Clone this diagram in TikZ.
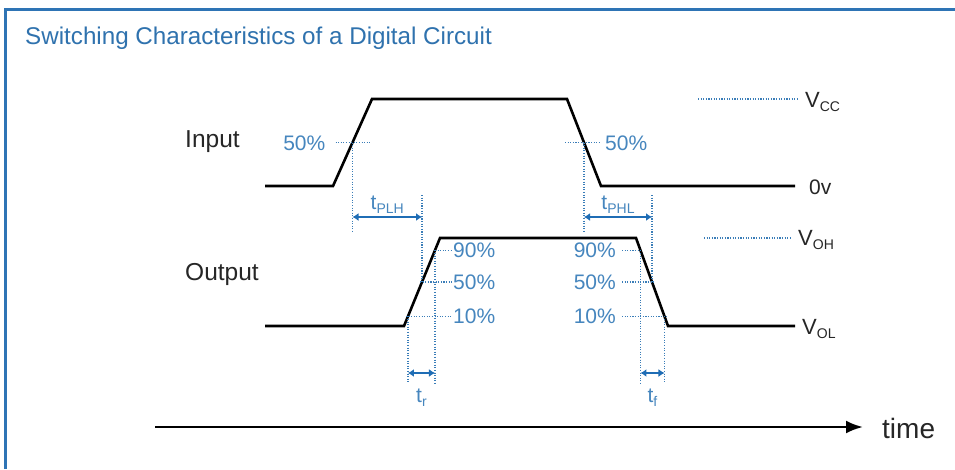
\documentclass[tikz,border=0pt]{standalone}
\usepackage{fontspec}
\setmainfont{Liberation Sans}
\usetikzlibrary{arrows.meta,calc}
\definecolor{frameblue}{HTML}{2E74B5}
\definecolor{titleblue}{HTML}{2F72AE}
\definecolor{lblblue}{HTML}{4686BE}
\definecolor{dotblue}{HTML}{3A7DB8}
\definecolor{arrblue}{HTML}{1F6DB5}
\newcommand{\subtxt}[1]{\raisebox{-0.22em}{\fontsize{14}{14}\selectfont #1}}
\begin{document}
\begin{tikzpicture}[x=1pt,y=-1pt,
  wave/.style={line width=2.6pt, black, line join=miter},
  guide/.style={dotblue, line width=1.4pt, dash pattern=on 1.1pt off 1.5pt},
  dimarrow/.style={arrblue, line width=1.6pt, {Latex[length=6pt,width=8pt]}-{Latex[length=6pt,width=8pt]}},
  pct/.style={font=\fontsize{21}{21}\selectfont, text=lblblue, inner sep=0pt},
  tlbl/.style={font=\fontsize{21}{21}\selectfont, text=lblblue, inner sep=0pt},
  blk/.style={font=\fontsize{24.5}{24.5}\selectfont, text=black!85, inner sep=0pt},
]
\useasboundingbox (0,0) rectangle (955,469);
\fill[white] (0,0) rectangle (955,469);
\draw[frameblue, line width=3pt] (5,469) -- (5,9) -- (955,9);

\node[anchor=base west, font=\fontsize{24.2}{24.2}\selectfont, text=titleblue, inner sep=0pt] (title) at (25,44) {Switching Characteristics of a Digital Circuit};

% signal labels
\node[blk, anchor=base west] (input) at (185,147) {Input};
\node[blk, anchor=base west] (output) at (185,280) {Output};

% input waveform
\coordinate (i0) at (265,186);
\coordinate (i1) at (333,186);
\coordinate (i2) at (372,99);
\coordinate (i3) at (567,99);
\coordinate (i4) at (601,186);
\coordinate (i5) at (795,186);
\draw[wave] (i0) -- (i1) -- (i2) -- (i3) -- (i4) -- (i5);

% output waveform
\coordinate (o0) at (265,326);
\coordinate (o1) at (404,326);
\coordinate (o2) at (440,238);
\coordinate (o3) at (636,238);
\coordinate (o4) at (668,326);
\coordinate (o5) at (795,326);
\draw[wave] (o0) -- (o1) -- (o2) -- (o3) -- (o4) -- (o5);

% crossing points
\coordinate (ir50) at ($(i1)!0.5!(i2)$);
\coordinate (if50) at ($(i3)!0.5!(i4)$);
\coordinate (or10) at ($(o1)!0.11!(o2)$);
\coordinate (or50) at ($(o1)!0.5!(o2)$);
\coordinate (or90) at ($(o1)!0.86!(o2)$);
\coordinate (of90) at ($(o3)!0.14!(o4)$);
\coordinate (of50) at ($(o3)!0.5!(o4)$);
\coordinate (of10) at ($(o3)!0.89!(o4)$);
\coordinate (plhm) at ($(ir50)!0.5!(or50)$);
\coordinate (phlm) at ($(if50)!0.5!(of50)$);
\coordinate (trm) at ($(or10)!0.5!(or90)$);
\coordinate (tfm) at ($(of90)!0.5!(of10)$);

% level lines
\draw[guide] (698,99) -- (797,99);
\node[anchor=base west, font=\fontsize{22}{22}\selectfont, text=black!85, inner sep=0pt] (vcc) at (805,107) {V\subtxt{CC}};
\node[anchor=base west, font=\fontsize{21}{21}\selectfont, text=black!85, inner sep=0pt] (zero) at (809,194) {0v};
\draw[guide] (704,238) -- (792,238);
\node[anchor=base west, font=\fontsize{22}{22}\selectfont, text=black!85, inner sep=0pt] (voh) at (798,245) {V\subtxt{OH}};
\node[anchor=base west, font=\fontsize{22}{22}\selectfont, text=black!85, inner sep=0pt] (vol) at (802,334) {V\subtxt{OL}};

% input 50% marks
\draw[guide] ($(ir50)+(-17,0)$) -- ($(ir50)+(17,0)$);
\node[pct, anchor=base east] (p1) at ($(ir50)+(-27,7.5)$) {50\%};
\draw[guide] ($(if50)+(-19,0)$) -- ($(if50)+(16,0)$);
\node[pct, anchor=base west] (p2) at ($(if50)+(21,7.5)$) {50\%};

% tPLH
\coordinate (plhA) at (ir50 |- 0,232);
\coordinate (plhB) at (or50 |- 0,195);
\draw[guide] (ir50) -- (plhA);
\draw[guide] (plhB) -- (or50);
\draw[dimarrow] (ir50 |- 0,217) -- (or50 |- 0,217);
\node[tlbl, anchor=base] (tplh) at (plhm |- 0,209) {t\subtxt{PLH}};

% tPHL
\coordinate (phlA) at (if50 |- 0,232);
\coordinate (phlB) at (of50 |- 0,195);
\draw[guide] (if50) -- (phlA);
\draw[guide] (phlB) -- (of50);
\draw[dimarrow] (if50 |- 0,217) -- (of50 |- 0,217);
\node[tlbl, anchor=base] (tphl) at (phlm |- 0,209) {t\subtxt{PHL}};

% output rise marks
\draw[guide] (or90) -- (452,0 |- or90);
\draw[guide] ($(or50)+(-2,0)$) -- (452,0 |- or50);
\draw[guide] ($(or10)+(-2,0)$) -- (452,0 |- or10);
\node[pct, anchor=base west] (r90) at ($(453,0 |- or90)+(0,7.5)$) {90\%};
\node[pct, anchor=base west] (r50) at ($(453,0 |- or50)+(0,7.5)$) {50\%};
\node[pct, anchor=base west] (r10) at ($(453,0 |- or10)+(0,7.5)$) {10\%};
\draw[guide] (or10) -- (or10 |- 0,383);
\draw[guide] (or90) -- (or90 |- 0,383);
\draw[dimarrow] (or10 |- 0,373) -- (or90 |- 0,373);
\node[tlbl, anchor=base] (tr) at (trm |- 0,402) {t\subtxt{r}};

% output fall marks
\draw[guide] (622,0 |- of90) -- ($(of90)+(2,0)$);
\draw[guide] (622,0 |- of50) -- ($(of50)+(2,0)$);
\draw[guide] (622,0 |- of10) -- ($(of10)+(2,0)$);
\node[pct, anchor=base east] (f90) at ($(616,0 |- of90)+(0,7.5)$) {90\%};
\node[pct, anchor=base east] (f50) at ($(616,0 |- of50)+(0,7.5)$) {50\%};
\node[pct, anchor=base east] (f10) at ($(616,0 |- of10)+(0,7.5)$) {10\%};
\draw[guide] (of90) -- (of90 |- 0,383);
\draw[guide] (of10) -- (of10 |- 0,383);
\draw[dimarrow] (of90 |- 0,373) -- (of10 |- 0,373);
\node[tlbl, anchor=base] (tf) at (tfm |- 0,402) {t\subtxt{f}};

% time axis
\coordinate (ta) at (155,427);
\coordinate (tb) at (863,427);
\draw[line width=2.6pt, -{Latex[length=17pt,width=13pt]}] (ta) -- (tb);
\node[anchor=base west, font=\fontsize{28}{28}\selectfont, text=black!85, inner sep=0pt] (time) at (882,438) {time};
\end{tikzpicture}
\end{document}
